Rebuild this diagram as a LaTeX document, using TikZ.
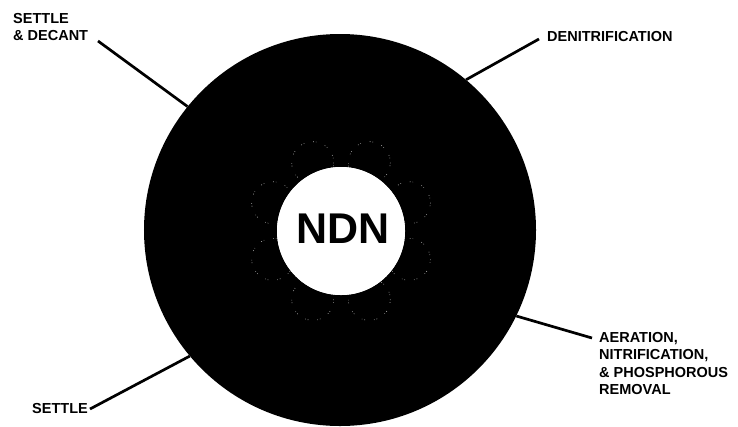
\documentclass[tikz,border=0pt]{standalone}
\usepackage{fontspec}
\setmainfont{Liberation Sans}
\usetikzlibrary{calc}
\begin{document}
\begin{tikzpicture}[x=1bp,y=-1bp,
  labeltext/.style={font=\bfseries\fontsize{14.5bp}{17.5bp}\selectfont,
                    inner sep=0pt, align=left, text=black},
  leader/.style={line width=2.7bp, draw=black},
  speckle/.style={draw=white!70!black, line width=0.6bp,
                  dash pattern=on 0.8bp off 2bp on 0.6bp off 9bp}]
  \useasboundingbox[fill=white] (0,0) rectangle (738,426);

  % outer tank and central NDN zone
  \node[circle, fill=black, minimum size=392bp, inner sep=0pt] (disk) at (340,230) {};
  \node[circle, fill=white, minimum size=128bp, inner sep=0pt] (core) at (341,231) {};

  % faint scalloped ring around the core
  \foreach \a in {22.5,67.5,...,360}
    \draw[speckle] ($(core.center)+(\a:74)$) circle[radius=21];
  \node[circle, fill=white, minimum size=128bp, inner sep=0pt] at (core.center) {};

  \node[font=\bfseries\fontsize{43bp}{43bp}\selectfont, inner sep=0pt] (ndn) at (343,228.5) {NDN};

  % stage labels
  \node[labeltext, anchor=north west] (sd) at (13,13) {SETTLE\\\& DECANT};
  \node[labeltext, anchor=west] (denit) at (547,36.5) {DENITRIFICATION};
  \node[labeltext, anchor=north west] (aer) at (599,332)
    {AERATION,\\NITRIFICATION,\\\& PHOSPHOROUS\\REMOVAL};
  \node[labeltext, anchor=west] (settle) at (32,408) {SETTLE};

  % leader ends beside the labels
  \coordinate (sdtip) at (98,41);
  \coordinate (denittip) at (539,39);
  \coordinate (aertip) at (592,338);
  \coordinate (settletip) at (90,409);

  \draw[leader] (sdtip) -- (disk.141.6);
  \draw[leader] (denittip) -- (disk.50.6);
  \draw[leader] (aertip) -- (disk.-26);
  \draw[leader] (settletip) -- (disk.220.1);
\end{tikzpicture}
\end{document}
